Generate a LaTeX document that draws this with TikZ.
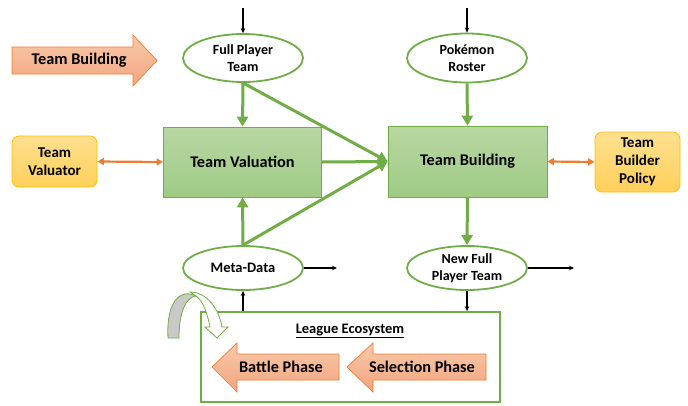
\documentclass[tikz,border=0pt]{standalone}
\usepackage{fontspec}
\setmainfont{Carlito}
\usetikzlibrary{shapes.geometric,arrows.meta,calc}
\definecolor{gr}{HTML}{70AD47}
\definecolor{grtop}{HTML}{B7D7A3}
\definecolor{grbot}{HTML}{9FCB84}
\definecolor{orline}{HTML}{ED7D31}
\definecolor{ortop}{HTML}{F8C9AA}
\definecolor{orbot}{HTML}{F4A57E}
\definecolor{yltop}{HTML}{FFE08F}
\definecolor{ylbot}{HTML}{FFD05A}
\definecolor{ylline}{HTML}{FFC000}
\definecolor{greyband}{HTML}{C9C9C9}
\tikzset{
  ell/.style={ellipse, draw=gr, line width=1.8pt, fill=white, minimum width=120pt, minimum height=48pt, inner sep=0pt, align=center, font=\fontsize{14}{17}\selectfont\bfseries},
  procbox/.style={rectangle, draw=gr, line width=0.8pt, top color=grtop, bottom color=grbot, inner sep=0pt, font=\fontsize{16.3}{18}\selectfont\bfseries},
  agent/.style={rectangle, rounded corners=7pt, draw=ylline, line width=0.8pt, top color=yltop, bottom color=ylbot, inner sep=0pt, align=center, font=\fontsize{15}{18}\selectfont\bfseries},
  garrow/.style={draw=gr, line width=3pt, -{Triangle[length=10pt,width=11pt]}},
  barrow/.style={draw=black, line width=1.1pt, -{Stealth[length=5pt,width=4.5pt]}},
  oarrow/.style={draw=orline, line width=2.2pt, {Triangle[length=6.5pt,width=7pt]}-{Triangle[length=6.5pt,width=7pt]}},
  orshape/.style={draw=orline, line width=0.7pt, top color=ortop, bottom color=orbot},
  otext/.style={font=\fontsize{16.3}{18}\selectfont\bfseries, inner sep=0pt},
}
\begin{document}
\begin{tikzpicture}[x=1pt,y=-1pt]
\useasboundingbox (0,0) rectangle (688,405);

% ellipses
\node[ell] (FPT) at (243,58) {Full Player\\Team};
\node[ell, minimum height=49pt] (PR) at (467,58) {Pokémon\\Roster};
\node[ell, minimum height=44pt, font=\fontsize{14.5}{16}\selectfont\bfseries] (MD) at (243,268) {Meta-Data};
\node[ell, minimum height=44pt] (NF) at (467,268) {New Full\\Player Team};

% process boxes
\node[procbox, minimum width=158pt, minimum height=70pt] (TV) at (242.5,162) {Team Valuation};
\node[procbox, minimum width=159pt, minimum height=71pt] (TB) at (467.5,161.5) {Team Building};

% agents
\node[agent, minimum width=85pt, minimum height=51pt] (VAL) at (54.5,161.5) {Team\\Valuator};
\node[agent, minimum width=85pt, minimum height=60pt] (POL) at (637.5,162) {Team\\Builder\\Policy};

% orange double arrows
\draw[oarrow] (VAL.east) -- (TV.west);
\draw[oarrow] (TB.east) -- (POL.east -| POL.west);

% green arrows
\draw[garrow] (FPT.south) -- (TV.north);
\draw[garrow] (FPT.south) -- (TB.west);
\draw[garrow] (TV.east) -- (TB.west);
\draw[garrow] (MD.north) -- (TV.south);
\draw[garrow] (MD.north) -- (TB.west);
\draw[garrow] (PR.south) -- (TB.north);
\draw[garrow] (TB.south) -- (NF.north);

% black arrows
\coordinate (inFPT) at (243,8);
\coordinate (inPR) at (467,8);
\coordinate (outMD) at (337,268);
\coordinate (outNF) at (574,268);
\draw[barrow] (inFPT) -- (FPT.north);
\draw[barrow] (inPR) -- (PR.north);
\draw[barrow] (MD.east) -- (outMD);
\draw[barrow] (NF.east) -- (outNF);

% league ecosystem box
\node[draw=gr, line width=1.8pt, minimum width=299pt, minimum height=90pt, inner sep=0pt] (LE) at (350.5,357) {};
\node[font=\fontsize{14.5}{16}\selectfont\bfseries, inner sep=1pt] (LEt) at (350,331) {\underline{League Ecosystem}};
\draw[barrow] (MD.south |- LE.north) -- (MD.south);
\draw[barrow] (NF.south) -- (NF.south |- LE.north);

% team building arrow (top left)
\path[orshape] (12,47) -- (133,47) -- (133,35) -- (157,60.5) -- (133,86) -- (133,74) -- (12,74) -- cycle;
\node[otext] (TBA) at (79,60.5) {Team Building};

% battle phase arrow
\path[orshape] (212,367) -- (237,343) -- (237,354) -- (339,354) -- (339,380) -- (237,380) -- (237,392) -- cycle;
\node[otext] (BP) at (281,367) {Battle Phase};
% selection phase arrow
\path[orshape] (347,367) -- (373,343) -- (373,354) -- (486,354) -- (486,380) -- (373,380) -- (373,392) -- cycle;
\node[otext] (SP) at (422,367) {Selection Phase};

% curved arrow
\path[draw=gr, line width=0.8pt, fill=white] (190,292) .. controls (207,292) and (219,309) .. (222,327) -- (228,327) -- (217,338) -- (205,327) -- (210,327) .. controls (207,312) and (203,301) .. (196,296) -- cycle;
\path[draw=gr, line width=0.8pt, fill=greyband] (168,338) .. controls (166,302) and (180,288) .. (196,296) .. controls (186,297) and (179,312) .. (179,338) -- cycle;
\end{tikzpicture}
\end{document}
